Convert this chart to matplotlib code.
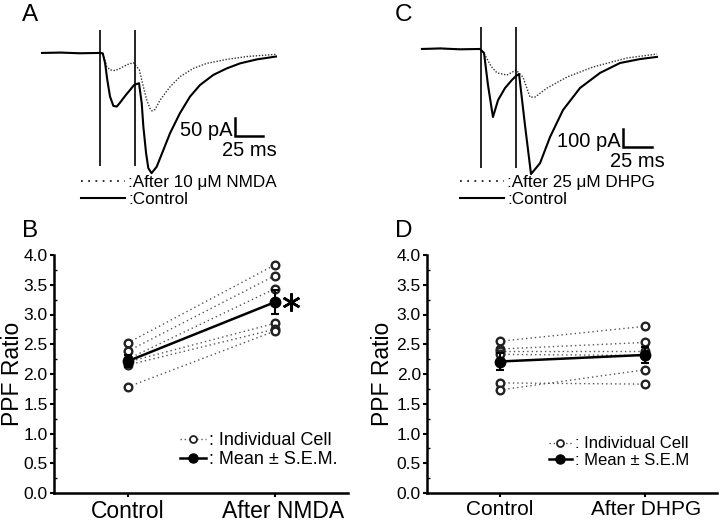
import numpy as np
import matplotlib
matplotlib.use("Agg")
from matplotlib import pyplot as plt
from matplotlib.lines import Line2D
from matplotlib.transforms import offset_copy, ScaledTranslation

plt.rcParams["font.family"] = ["Liberation Sans", "DejaVu Sans"]

# ---- panel A: EPSC traces, time (ms) vs current (pA) ----
a_ctrl_t = [-51.8, -35, -18, -1, 2.4, 4.5, 6.5, 8.9, 11.9, 14.9, 17.9, 20.8, 23.8, 26.8, 30.4,
            34.8, 37.2, 38.7, 41.1, 43.1, 46.0, 50.6, 56.5, 62.5, 71.4, 80.4, 89.3, 101.2,
            113.1, 125.0, 139.9, 157.1]
a_ctrl_i = [0, 1, -1, 0, -1, -28, -75, -121, -147, -149, -138, -126, -114, -103, -89,
            -84, -139, -205, -278, -320, -334, -316, -270, -223, -167, -121, -89, -61,
            -43, -29, -18, -10]
a_nmda_t = [-51.8, -35, -18, -1, 2.7, 6.0, 8.9, 13.4, 17.9, 23.8, 29.7, 35.1, 38.7, 41.7,
            44.6, 46.4, 49.1, 53.6, 62.5, 71.4, 83.3, 95.3, 113.1, 131.0, 157.1]
a_nmda_i = [0, 1, -1, 0, -3, -38, -47, -49, -43, -33, -27, -47, -94, -131,
            -154, -161, -157, -131, -94, -66, -43, -29, -18, -10, -4]
a_stim_t = [0, 31.25]
a_stim_lo = [-314, -314]
a_stim_hi = [64, 64]

# ---- panel C ----
c_ctrl_t = [-50.9, -35, -18, -1, 2.6, 6.0, 10.3, 14.7, 20.7, 26.7, 30.2, 32.8, 37.9, 43.1,
            50.9, 59.5, 70.7, 85.3, 102.6, 119.8, 137.1, 151.7]
c_ctrl_i = [0, 3, -2, 0, -22, -200, -378, -284, -217, -172, -150, -139, -423, -695,
            -634, -489, -339, -217, -133, -78, -56, -44]
c_dhpg_t = [-50.9, -35, -18, -1, 3.4, 8.6, 13.8, 22.4, 30.2, 36.2, 42.2, 46.6, 56.9, 74.1,
            96.6, 125.9, 151.7]
c_dhpg_i = [0, 3, -2, 0, -33, -95, -133, -145, -117, -156, -267, -267, -217, -156,
            -100, -50, -28]
c_stim_t = [0, 30.2]
c_stim_lo = [-662, -662]
c_stim_hi = [122, 122]

# ---- panels B and D: PPF ratios ----
b_ctrl = [2.52, 2.38, 2.25, 2.20, 2.15, 1.78]
b_nmda = [3.83, 3.65, 3.43, 2.85, 2.75, 2.72]
d_ctrl = [2.55, 2.42, 2.38, 2.33, 1.85, 1.73]
d_dhpg = [2.80, 2.53, 2.38, 2.31, 1.83, 2.07]

W, H = 720, 523
fig = plt.figure(figsize=(7.2, 5.23), dpi=100)


def fx(x):
    return x / W


def fy(y):
    return 1 - y / H


def trace_panel(rect, xlim, ylim, ctrl, drug, stim, bar, bar_pa, drug_label, legend_x):
    ax = fig.add_axes(rect)
    ax.axis("off")
    ax.set_xlim(*xlim)
    ax.set_ylim(*ylim)
    ax.plot(drug[0], drug[1], ls=(0, (1, 1.2)), color="#333333", lw=1.0)
    ax.plot(ctrl[0], ctrl[1], ls="-", color="black", lw=1.5)
    ax.vlines(stim[0], stim[1], stim[2], color="black", lw=1.2)
    bt, bi = bar
    ax.plot([bt, bt, bt + 25], [bi + bar_pa, bi, bi], color="black", lw=1.8,
            solid_joinstyle="miter")
    ax.annotate(f"{bar_pa} pA", (bt, bi), xytext=(-2, 0), textcoords="offset pixels",
                ha="right", va="baseline", fontsize=14.5)
    ax.annotate("25 ms", (bt + 12.5, bi), xytext=(0, -5), textcoords="offset pixels",
                ha="center", va="top", fontsize=14.5)
    handles = [Line2D([], [], ls=(0, (1, 3)), color="#222222", lw=1.3),
               Line2D([], [], ls="-", color="black", lw=1.5)]
    ax.legend(handles, [":" + drug_label, ":Control"], loc="upper left",
              bbox_to_anchor=(fx(legend_x), fy(175)), bbox_transform=fig.transFigure,
              frameon=False, handlelength=2.6, handletextpad=0.15, labelspacing=0.12,
              borderpad=0, borderaxespad=0, fontsize=12.3)
    return ax


trace_panel([0, fy(220), 0.5, 220 / H], (-89.3, 232.1), (-464, 147),
            (a_ctrl_t, a_ctrl_i), (a_nmda_t, a_nmda_i), (a_stim_t, a_stim_lo, a_stim_hi),
            (120.5, -231), 50, "After 10 \u03bcM NMDA", 81)
trace_panel([0.5, fy(220), 0.5, 220 / H], (-104.3, 206.0), (-950, 272),
            (c_ctrl_t, c_ctrl_i), (c_dhpg_t, c_dhpg_i), (c_stim_t, c_stim_lo, c_stim_hi),
            (122.4, -545), 100, "After 25 \u03bcM DHPG", 460)


def ppf_panel(left_px, right_px, ctrl, treat, xlabels, mean_label, star, leg_x, lab_x,
              xt_size, leg_size, shift2):
    top_px, bot_px = 255, 493
    ax = fig.add_axes([fx(left_px), fy(bot_px), (right_px - left_px) / W,
                       (bot_px - top_px) / H])
    x = [0, 1]
    for c, t in zip(ctrl, treat):
        ax.plot(x, [c, t], ls=(0, (1, 2.2)), color="#555555", lw=1.0, zorder=1)
        ax.plot(x, [c, t], ls="none", marker="o", ms=5.5, mfc="white", mec="#222222",
                mew=1.7, zorder=2)
    means = [np.mean(ctrl), np.mean(treat)]
    sems = [np.std(ctrl, ddof=1) / np.sqrt(len(ctrl)),
            np.std(treat, ddof=1) / np.sqrt(len(treat))]
    ax.errorbar(x, means, yerr=sems, color="black", lw=1.8, marker="o", ms=7.5,
                capsize=3, capthick=1.5, elinewidth=1.5, zorder=3)
    if star:
        tr = offset_copy(ax.transData, fig=fig, x=16, y=0, units="dots")
        ax.plot(1, means[1], marker=(6, 2, 0), ms=13, mew=1.8, color="black",
                transform=tr, clip_on=False)
    ax.set_xlim(-0.5, 1.5)
    ax.set_ylim(0, 4)
    ax.set_xticks(x, xlabels)
    ax.set_yticks(np.arange(0, 4.01, 0.5))
    ax.set_yticks(np.arange(0.25, 4, 0.5), minor=True)
    ax.yaxis.set_major_formatter(plt.FormatStrFormatter("%.1f"))
    for s in ("top", "right"):
        ax.spines[s].set_visible(False)
    for s in ("left", "bottom"):
        ax.spines[s].set_linewidth(1.8)
    ax.tick_params(axis="y", direction="out", length=3, width=1.5, labelsize=12.5, pad=1.5)
    ax.tick_params(axis="y", which="minor", direction="in", length=2, width=1)
    ax.tick_params(axis="x", direction="out", length=3, width=1.5, labelsize=xt_size, pad=2)
    lab = ax.get_xticklabels()[1]
    lab.set_transform(lab.get_transform() + ScaledTranslation(shift2 / 100, 0,
                                                              fig.dpi_scale_trans))
    ax.set_ylabel("PPF Ratio", fontsize=16.5)
    ax.yaxis.set_label_coords((lab_x - left_px) / (right_px - left_px), 0.5)
    handles = [Line2D([], [], ls=(0, (1, 2)), color="#555555", lw=1.0, marker="o",
                      ms=5, mfc="white", mec="#222222", mew=1.3),
               Line2D([], [], color="black", lw=1.8, marker="o", ms=6.5)]
    ax.legend(handles, [": Individual Cell", ": " + mean_label], loc="lower left",
              bbox_to_anchor=(leg_x, 0.105), frameon=False, handlelength=1.4,
              handletextpad=0.2, labelspacing=0.1, borderpad=0, borderaxespad=0,
              fontsize=leg_size)
    return ax


ppf_panel(54, 348, b_ctrl, b_nmda, ["Control", "After NMDA"], "Mean \u00b1 S.E.M.", True,
          0.43, 24, 16.5, 13, 9)
ppf_panel(427, 717, d_ctrl, d_dhpg, ["Control", "After DHPG"], "Mean \u00b1 S.E.M", False,
          0.42, 394, 15, 12, 2)

for letter, x, y in [("A", 22, 21), ("C", 395, 21), ("B", 22, 237), ("D", 395, 237)]:
    fig.text(fx(x), fy(y), letter, fontsize=17.5, ha="left", va="baseline")

fig.savefig("out.png", dpi=100)
